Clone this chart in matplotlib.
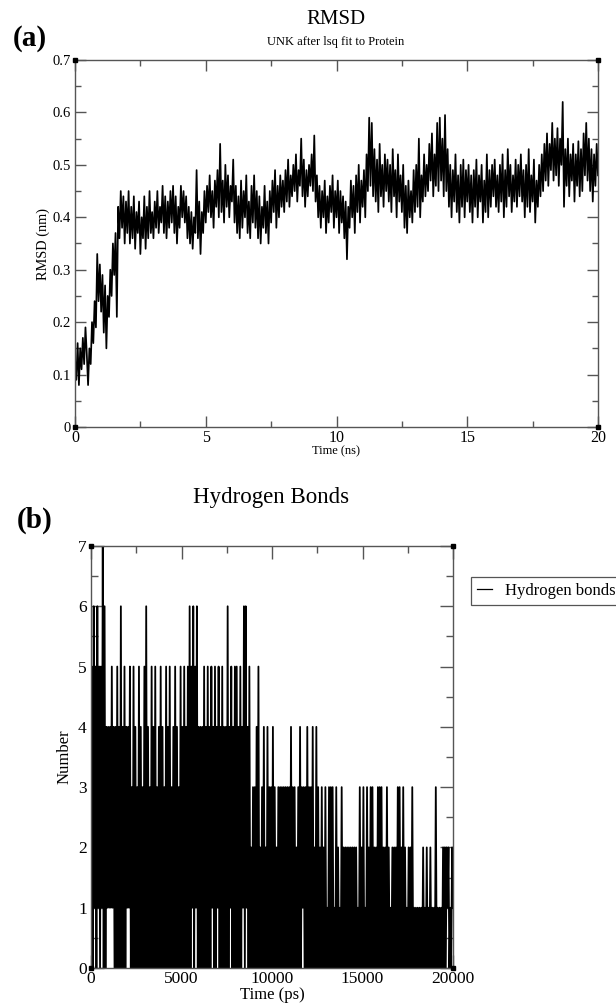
import numpy as np
import matplotlib
matplotlib.use('Agg')
import matplotlib.pyplot as plt
from matplotlib.ticker import MultipleLocator, FuncFormatter
from matplotlib.lines import Line2D

plt.rcParams['font.family'] = ['Liberation Serif', 'DejaVu Serif']

# RMSD trace, one value every 0.05 ns (rows = 1 ns)
rmsd_nm = [
    0.13, 0.09, 0.16, 0.08, 0.15, 0.11, 0.17, 0.12, 0.19, 0.14, 0.08, 0.15, 0.12, 0.20, 0.16, 0.24, 0.19, 0.33, 0.24, 0.31,
    0.22, 0.29, 0.18, 0.27, 0.15, 0.25, 0.21, 0.30, 0.25, 0.35, 0.29, 0.37, 0.21, 0.42, 0.36, 0.45, 0.38, 0.44, 0.35, 0.43,
    0.37, 0.45, 0.35, 0.42, 0.36, 0.44, 0.34, 0.41, 0.37, 0.43, 0.33, 0.40, 0.36, 0.44, 0.34, 0.42, 0.36, 0.45, 0.37, 0.41,
    0.36, 0.43, 0.38, 0.45, 0.37, 0.42, 0.39, 0.46, 0.37, 0.44, 0.36, 0.43, 0.38, 0.45, 0.39, 0.46, 0.37, 0.44, 0.35, 0.42,
    0.38, 0.46, 0.40, 0.45, 0.39, 0.44, 0.36, 0.42, 0.35, 0.41, 0.34, 0.40, 0.37, 0.49, 0.36, 0.43, 0.33, 0.41, 0.37, 0.45,
    0.39, 0.46, 0.41, 0.48, 0.40, 0.45, 0.38, 0.47, 0.42, 0.49, 0.40, 0.54, 0.41, 0.47, 0.39, 0.50, 0.42, 0.48, 0.40, 0.46,
    0.43, 0.51, 0.39, 0.46, 0.37, 0.44, 0.36, 0.47, 0.38, 0.45, 0.40, 0.48, 0.37, 0.43, 0.36, 0.46, 0.39, 0.48, 0.38, 0.45,
    0.36, 0.44, 0.35, 0.42, 0.38, 0.46, 0.37, 0.43, 0.35, 0.45, 0.39, 0.47, 0.41, 0.49, 0.38, 0.46, 0.40, 0.48, 0.42, 0.47,
    0.41, 0.49, 0.43, 0.51, 0.42, 0.48, 0.44, 0.50, 0.45, 0.52, 0.43, 0.49, 0.46, 0.55, 0.44, 0.51, 0.42, 0.49, 0.44, 0.50,
    0.46, 0.52, 0.45, 0.556, 0.43, 0.48, 0.40, 0.46, 0.38, 0.45, 0.40, 0.47, 0.37, 0.44, 0.39, 0.46, 0.41, 0.48, 0.38, 0.45,
    0.40, 0.47, 0.37, 0.45, 0.39, 0.44, 0.36, 0.43, 0.32, 0.42, 0.38, 0.47, 0.40, 0.46, 0.37, 0.48, 0.41, 0.50, 0.39, 0.47,
    0.42, 0.49, 0.40, 0.52, 0.45, 0.59, 0.46, 0.58, 0.44, 0.53, 0.43, 0.51, 0.41, 0.54, 0.44, 0.50, 0.42, 0.52, 0.45, 0.51,
    0.43, 0.50, 0.41, 0.53, 0.44, 0.49, 0.40, 0.52, 0.43, 0.48, 0.41, 0.50, 0.38, 0.46, 0.37, 0.47, 0.40, 0.45, 0.39, 0.49,
    0.41, 0.50, 0.42, 0.55, 0.40, 0.48, 0.43, 0.52, 0.44, 0.50, 0.45, 0.54, 0.47, 0.56, 0.44, 0.52, 0.46, 0.58, 0.45, 0.59,
    0.47, 0.55, 0.44, 0.595, 0.45, 0.53, 0.42, 0.50, 0.40, 0.49, 0.43, 0.52, 0.41, 0.48, 0.39, 0.50, 0.42, 0.51, 0.40, 0.49,
    0.43, 0.50, 0.41, 0.48, 0.39, 0.49, 0.42, 0.51, 0.40, 0.48, 0.43, 0.50, 0.39, 0.47, 0.41, 0.52, 0.40, 0.49, 0.42, 0.50,
    0.44, 0.51, 0.42, 0.48, 0.41, 0.50, 0.43, 0.52, 0.40, 0.49, 0.42, 0.53, 0.44, 0.50, 0.41, 0.48, 0.43, 0.51, 0.42, 0.50,
    0.44, 0.52, 0.43, 0.49, 0.40, 0.50, 0.42, 0.53, 0.41, 0.48, 0.43, 0.51, 0.39, 0.47, 0.42, 0.50, 0.44, 0.52, 0.45, 0.54,
    0.47, 0.56, 0.46, 0.54, 0.49, 0.58, 0.47, 0.55, 0.48, 0.57, 0.46, 0.55, 0.50, 0.62, 0.42, 0.53, 0.46, 0.55, 0.44, 0.52,
    0.47, 0.54, 0.43, 0.52, 0.46, 0.545, 0.44, 0.53, 0.45, 0.56, 0.48, 0.58, 0.47, 0.55, 0.45, 0.53, 0.43, 0.52, 0.46, 0.54,
    0.48,
]
rmsd_step_ns = 0.05

# hydrogen bond count, one value every 50 ps (rows = 1000 ps)
hbond_counts = [
    1, 5, 0, 6, 1, 5, 0, 6, 1, 5, 0, 5, 1, 7, 0, 6, 0, 4, 1, 4,
    1, 4, 1, 5, 1, 4, 0, 4, 0, 5, 0, 4, 0, 6, 0, 4, 0, 5, 0, 4,
    1, 4, 1, 5, 0, 3, 0, 5, 0, 4, 0, 3, 0, 5, 0, 4, 0, 3, 0, 5,
    0, 6, 0, 4, 0, 3, 0, 5, 0, 4, 0, 5, 0, 3, 0, 4, 0, 5, 0, 4,
    0, 3, 0, 5, 0, 4, 0, 5, 0, 3, 0, 4, 0, 5, 0, 4, 0, 3, 0, 5,
    0, 4, 0, 5, 0, 4, 0, 5, 0, 6, 0, 5, 1, 6, 0, 5, 1, 6, 0, 4,
    0, 4, 0, 4, 0, 5, 0, 4, 0, 5, 0, 4, 0, 5, 1, 4, 0, 5, 0, 4,
    1, 5, 0, 4, 0, 5, 0, 4, 0, 4, 0, 6, 0, 4, 1, 5, 0, 4, 0, 5,
    0, 5, 0, 4, 0, 5, 0, 4, 1, 6, 0, 6, 1, 4, 0, 5, 0, 2, 0, 3,
    0, 3, 0, 4, 0, 5, 0, 2, 0, 3, 0, 4, 0, 2, 0, 4, 0, 3, 0, 3,
    0, 4, 0, 3, 0, 2, 0, 3, 0, 3, 0, 3, 0, 3, 0, 3, 0, 3, 0, 3,
    0, 4, 0, 3, 0, 3, 0, 2, 0, 3, 0, 4, 0, 3, 1, 3, 0, 3, 0, 4,
    0, 3, 0, 3, 0, 4, 0, 2, 0, 4, 0, 3, 0, 2, 0, 3, 0, 2, 0, 3,
    0, 1, 0, 3, 0, 3, 0, 3, 0, 1, 0, 3, 0, 2, 0, 1, 0, 3, 0, 2,
    0, 2, 0, 2, 0, 2, 0, 2, 0, 2, 0, 2, 0, 2, 0, 1, 0, 3, 0, 2,
    0, 3, 0, 1, 0, 3, 0, 2, 0, 3, 0, 3, 0, 2, 0, 2, 0, 3, 0, 3,
    0, 3, 0, 2, 0, 2, 0, 3, 0, 2, 0, 1, 0, 2, 0, 2, 0, 2, 0, 3,
    0, 3, 0, 2, 0, 3, 0, 2, 0, 1, 0, 2, 0, 2, 0, 3, 0, 1, 0, 1,
    0, 1, 0, 1, 0, 1, 0, 2, 0, 1, 0, 2, 0, 1, 0, 2, 0, 1, 0, 1,
    0, 3, 0, 1, 0, 1, 0, 1, 0, 2, 0, 2, 0, 2, 1, 2, 0, 1, 0, 2,
    1,
]
hbond_step_ps = 50

axis_grey = '#555555'


def grace_axes(ax, xmaj, xmin, ymaj, ymin, majlen, minlen, xsize, ysize):
    for s in ax.spines.values():
        s.set_color(axis_grey)
        s.set_linewidth(1.0)
    ax.xaxis.set_major_locator(MultipleLocator(xmaj))
    ax.xaxis.set_minor_locator(MultipleLocator(xmin))
    ax.yaxis.set_major_locator(MultipleLocator(ymaj))
    ax.yaxis.set_minor_locator(MultipleLocator(ymin))
    ax.tick_params(which='both', direction='in', top=True, right=True,
                   color=axis_grey, width=1.0)
    ax.tick_params(which='major', length=majlen)
    ax.tick_params(which='minor', length=minlen)
    ax.tick_params(axis='x', labelsize=xsize, pad=2)
    ax.tick_params(axis='y', labelsize=ysize, pad=3)
    # grace corner markers
    ax.plot([0, 1, 0, 1], [0, 0, 1, 1], 's', ms=3.5, color='k',
            transform=ax.transAxes, clip_on=False, zorder=5)


fig = plt.figure(figsize=(6.16, 10.08), dpi=100)

# (a) RMSD
ax1 = fig.add_axes([75 / 616, 1 - 427 / 1008, 523 / 616, 367 / 1008])
t_ns = np.arange(len(rmsd_nm)) * rmsd_step_ns
ax1.plot(t_ns, rmsd_nm, color='black', lw=1.25)
ax1.set_xlim(0, 20)
ax1.set_ylim(0, 0.7)
grace_axes(ax1, 5, 2.5, 0.1, 0.05, 8, 4.5, 11.5, 10.5)
ax1.yaxis.set_major_formatter(FuncFormatter(lambda v, p: '0' if abs(v) < 1e-9 else f'{v:.1f}'))
ax1.set_xlabel('Time (ns)', fontsize=9, labelpad=0)
ax1.set_ylabel('RMSD (nm)', fontsize=10.3, labelpad=2)
fig.text(336 / 616, 1 - 20 / 1008, 'RMSD', ha='center', va='center', fontsize=15)
fig.text(336 / 616, 1 - 42 / 1008, 'UNK after lsq fit to Protein', ha='center', va='center', fontsize=9)
fig.text(30 / 616, 1 - 38 / 1008, '(a)', ha='center', va='center', fontsize=21, fontweight='bold')

# (b) hydrogen bonds
ax2 = fig.add_axes([91 / 616, 1 - 968 / 1008, 362 / 616, 422 / 1008])
t_ps = np.arange(len(hbond_counts)) * hbond_step_ps
ax2.plot(t_ps, hbond_counts, color='black', lw=1.3)
ax2.set_xlim(0, 20000)
ax2.set_ylim(0, 7)
grace_axes(ax2, 5000, 2500, 1, 0.5, 9.5, 5, 12.5, 12.5)
ax2.set_xlabel('Time (ps)', fontsize=12, labelpad=0)
ax2.set_ylabel('Number', fontsize=12, labelpad=4)
fig.text(271 / 616, 1 - 497 / 1008, 'Hydrogen Bonds', ha='center', va='center', fontsize=16.5)
fig.text(35 / 616, 1 - 520 / 1008, '(b)', ha='center', va='center', fontsize=21, fontweight='bold')

handle = Line2D([], [], color='black', lw=0.9)
leg = fig.legend([handle], ['Hydrogen bonds'], loc='upper left',
                 bbox_to_anchor=(471 / 616, 1 - 577 / 1008), borderaxespad=0,
                 fontsize=12, handlelength=0.9, handletextpad=0.8,
                 fancybox=False, framealpha=1, borderpad=0.35)
leg.get_frame().set_edgecolor(axis_grey)
leg.get_frame().set_linewidth(0.9)

fig.savefig('out.png', dpi=100)
